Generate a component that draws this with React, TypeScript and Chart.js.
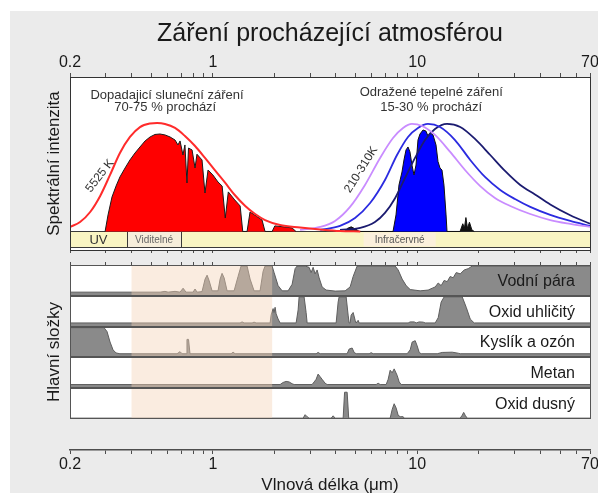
import React, { useEffect, useRef } from 'react';
import { Chart, registerables } from 'chart.js';

Chart.register(...registerables);

const FONT = "'Liberation Sans', Arial, Helvetica, sans-serif";
Chart.defaults.font.family = FONT;
Chart.defaults.color = '#1a1a1a';

// ---------- axis ----------
const axisMin = 0.2;
const axisMax = 70;
const tickValues = [0.2, 0.3, 0.4, 0.5, 0.6, 0.7, 0.8, 0.9, 1, 2, 3, 4, 5, 6, 7, 8, 9, 10, 20, 30, 40, 50, 60, 70];
const tickLabels = [0.2, 1, 10, 70];

// ---------- spectral bands (µm) ----------
const bandNames = ['UV', 'Viditelné', ''];
const bandEdges = [0.2, 0.38, 0.7, 70];
const irLabel = 'Infračervné';
const irLabelAt = 8.2;
const visibleShade = [0.4, 1.95];

// ---------- upper panel: [wavelength µm, relative intensity] ----------
const sunCurve5525K = [
  [0.2, 0.029], [0.224, 0.061], [0.251, 0.126], [0.281, 0.23], [0.314, 0.366], [0.351, 0.508],
  [0.393, 0.612], [0.44, 0.676], [0.493, 0.699], [0.533, 0.702], [0.583, 0.696], [0.653, 0.67],
  [0.73, 0.618], [0.818, 0.553], [0.915, 0.476], [1.02, 0.398], [1.15, 0.314], [1.28, 0.236],
  [1.44, 0.165], [1.61, 0.113], [1.8, 0.074], [2.13, 0.042], [2.67, 0.026], [3.35, 0.013],
  [4.19, 0.003], [5.26, 0],
];
const sunTransmitted = [
  [0.297, 0], [0.307, 0.107], [0.321, 0.223], [0.336, 0.294], [0.351, 0.353], [0.372, 0.411],
  [0.393, 0.463], [0.416, 0.508], [0.44, 0.547], [0.466, 0.586], [0.493, 0.612], [0.521, 0.628],
  [0.551, 0.631], [0.583, 0.625], [0.617, 0.612], [0.653, 0.592], [0.675, 0.56], [0.691, 0.586],
  [0.714, 0.495], [0.73, 0.56], [0.747, 0.314], [0.76, 0.54], [0.791, 0.528], [0.818, 0.411],
  [0.836, 0.5], [0.885, 0.463], [0.915, 0.249], [0.947, 0.398], [1.0, 0.366], [1.06, 0.32],
  [1.11, 0.294], [1.15, 0.087], [1.19, 0.256], [1.28, 0.204], [1.36, 0.165], [1.4, 0], [1.47, 0],
  [1.52, 0.126], [1.63, 0.1], [1.74, 0.074], [1.8, 0], [1.95, 0], [2.01, 0.036], [2.25, 0.029],
  [2.44, 0.023], [2.55, 0],
];
const thermal310K = [
  [2.67, 0.01], [3.35, 0.029], [3.96, 0.068], [4.69, 0.159], [5.55, 0.301], [6.58, 0.476],
  [7.61, 0.605], [8.52, 0.67], [9.42, 0.696], [10.55, 0.683], [12.21, 0.625], [14.49, 0.515],
  [17.12, 0.398], [20.32, 0.294], [24.0, 0.217], [28.5, 0.165], [35.71, 0.113], [44.73, 0.074],
  [56.04, 0.049], [70, 0.029],
];
const thermal260K = [
  [3.35, 0.01], [4.19, 0.036], [4.96, 0.087], [5.88, 0.184], [6.95, 0.333], [7.96, 0.495],
  [9.01, 0.612], [10.08, 0.67], [11.28, 0.696], [12.92, 0.676], [15.3, 0.592], [18.16, 0.463],
  [21.44, 0.353], [25.46, 0.269], [30.07, 0.21], [35.71, 0.159], [44.73, 0.107], [56.04, 0.068],
  [70, 0.036],
];
const thermal210K = [
  [4.19, 0.01], [5.26, 0.023], [6.21, 0.061], [6.95, 0.12], [7.8, 0.217], [8.71, 0.346],
  [9.75, 0.476], [10.91, 0.592], [12.21, 0.663], [13.98, 0.696], [16.22, 0.676], [19.16, 0.599],
  [22.75, 0.495], [26.87, 0.392], [31.9, 0.301], [37.67, 0.24], [44.73, 0.175], [56.04, 0.105],
  [70, 0.05],
];
const thermalTransmitted = [
  [7.61, 0], [7.87, 0.107], [8.14, 0.301], [8.42, 0.385], [8.61, 0.463], [8.81, 0.528],
  [9.01, 0.547], [9.21, 0.515], [9.42, 0.43], [9.64, 0.366], [9.86, 0.43], [10.08, 0.592],
  [10.31, 0.631], [10.67, 0.657], [11.03, 0.65], [11.28, 0.618], [11.54, 0.638], [11.94, 0.625],
  [12.35, 0.56], [12.63, 0.453], [12.92, 0.411], [13.21, 0.398], [13.51, 0.3], [13.83, 0.107],
  [13.98, 0],
];
const thermalMinor = [
  [4.4, 0], [4.55, 0.02], [4.75, 0.03], [5.0, 0.015], [5.2, 0], [16.2, 0], [16.7, 0.05],
  [17.0, 0.02], [17.3, 0.09], [17.6, 0.02], [18.0, 0.06], [18.5, 0.01], [19.0, 0],
];

// ---------- lower panel: [wavelength µm, absorption 0..1] ----------
const rowNames = ['Vodní pára', 'Oxid uhličitý', 'Kyslík a ozón', 'Metan', 'Oxid dusný'];
const waterVapor = [
  [0.2, 0], [0.552, 0], [0.583, 0.03], [0.604, 0], [0.653, 0.03], [0.691, 0], [0.715, 0.15],
  [0.739, 0], [0.8, 0], [0.818, 0.12], [0.837, 0], [0.885, 0.02], [0.916, 0.5], [0.937, 0.65],
  [0.958, 0.45], [0.991, 0.05], [1.06, 0.05], [1.085, 0.5], [1.109, 0.72], [1.135, 0.55],
  [1.174, 0.05], [1.27, 0.05], [1.328, 0.6], [1.374, 1], [1.47, 1], [1.521, 0.5], [1.591, 0.05],
  [1.702, 0.05], [1.761, 0.8], [1.801, 1], [1.949, 1], [1.993, 0.75], [2.085, 0.25], [2.182, 0.05],
  [2.334, 0.05], [2.442, 0.3], [2.526, 0.9], [2.583, 1], [2.827, 1], [2.957, 0.95], [3.025, 0.75],
  [3.094, 0.95], [3.164, 0.7], [3.237, 0.85], [3.31, 0.55], [3.424, 0.2], [3.582, 0.08],
  [3.965, 0.04], [4.438, 0.05], [4.695, 0.2], [4.856, 0.6], [5.08, 1], [7.797, 1], [8.064, 0.85],
  [8.437, 0.5], [8.826, 0.25], [9.233, 0.1], [10.33, 0.05], [11.31, 0.08], [11.83, 0.15],
  [12.24, 0.2], [12.66, 0.35], [13.09, 0.25], [13.54, 0.45], [14.01, 0.4], [14.49, 0.6],
  [14.99, 0.55], [15.51, 0.75], [16.22, 0.7], [16.97, 0.85], [17.75, 0.9], [18.57, 1], [70, 1],
];
const carbonDioxide = [
  [0.2, 0], [1.359, 0], [1.39, 0.04], [1.421, 0], [1.556, 0], [1.591, 0.03], [1.627, 0],
  [1.906, 0], [1.927, 0.3], [1.971, 0.55], [1.993, 0.4], [2.016, 0.6], [2.039, 0.35], [2.085, 0.15],
  [2.133, 0], [2.555, 0], [2.613, 0.5], [2.642, 1], [2.795, 1], [2.859, 0.4], [2.892, 0],
  [4.01, 0], [4.101, 0.8], [4.147, 1], [4.488, 1], [4.59, 0.3], [4.642, 0], [4.695, 0],
  [4.748, 0.3], [4.856, 0.4], [4.967, 0.1], [5.023, 0], [5.138, 0.1], [5.196, 0], [9.026, 0],
  [9.233, 0.04], [9.658, 0.04], [9.879, 0], [10.22, 0.04], [10.69, 0.03], [10.93, 0], [12.24, 0],
  [12.66, 0.2], [13.09, 0.8], [13.54, 1], [16.59, 1], [17.36, 0.6], [18.16, 0.15], [18.99, 0],
  [70, 0],
];
const oxygenOzone = [
  [0.2, 1], [0.2934, 1], [0.3035, 0.85], [0.314, 0.45], [0.3248, 0.15], [0.336, 0.03], [0.351, 0],
  [0.668, 0], [0.691, 0.08], [0.707, 0], [0.739, 0], [0.747, 0.55], [0.76, 0.55], [0.773, 0],
  [1.228, 0], [1.256, 0.06], [1.284, 0], [3.2, 0], [3.273, 0.05], [3.348, 0], [4.539, 0],
  [4.642, 0.18], [4.802, 0.22], [4.911, 0.05], [5.023, 0], [5.816, 0], [5.949, 0.04], [6.084, 0],
  [8.926, 0], [9.233, 0.15], [9.443, 0.45], [9.769, 0.5], [9.991, 0.3], [10.22, 0.05], [10.45, 0],
  [12.52, 0], [13.24, 0.05], [14.82, 0.06], [15.86, 0.02], [16.22, 0], [70, 0],
];
const methane = [
  [0.2, 0], [2.133, 0], [2.206, 0.08], [2.282, 0.12], [2.361, 0.1], [2.442, 0.03], [2.498, 0],
  [3.059, 0], [3.129, 0.1], [3.2, 0.2], [3.273, 0.4], [3.348, 0.3], [3.424, 0.2], [3.542, 0.05],
  [3.623, 0], [6.294, 0], [6.437, 0.05], [6.584, 0], [7.045, 0], [7.205, 0.2], [7.369, 0.55],
  [7.537, 0.45], [7.709, 0.6], [7.974, 0.35], [8.156, 0.1], [8.342, 0], [70, 0],
];
const nitrousOxide = [
  [0.2, 0], [2.764, 0], [2.827, 0.12], [2.892, 0.05], [2.957, 0], [3.79, 0], [3.876, 0.08],
  [3.965, 0], [4.339, 0], [4.41, 0.9], [4.539, 0.9], [4.62, 0], [7.369, 0], [7.537, 0.3],
  [7.709, 0.5], [7.885, 0.35], [8.064, 0.1], [8.249, 0.05], [8.532, 0.05], [8.629, 0],
  [16.22, 0], [16.59, 0.1], [16.87, 0.2], [17.16, 0.1], [17.55, 0], [70, 0],
];
const rowSeries = [waterVapor, carbonDioxide, oxygenOzone, methane, nitrousOxide];

// ---------- helpers ----------
const toXY = (arr: number[][]) => arr.map(([x, y]) => ({ x, y }));
const font = (size: number) => `${size}px ${FONT}`;

function logAxis(position: string, showLabels: boolean, height: number, tickLength = 4) {
  return {
    type: 'logarithmic',
    position,
    min: axisMin,
    max: axisMax,
    afterBuildTicks: (s: any) => {
      s.ticks = tickValues.map((v) => ({ value: v }));
    },
    afterFit: (s: any) => {
      s.height = height;
      s.paddingLeft = 0;
      s.paddingRight = 0;
    },
    grid: { display: true, drawOnChartArea: false, drawTicks: true, tickLength, tickColor: '#4d4d4d', tickWidth: 1 },
    border: { display: false },
    ticks: {
      display: showLabels,
      autoSkip: false,
      maxRotation: 0,
      minRotation: 0,
      padding: 1,
      font: { size: 16 },
      color: '#1a1a1a',
      callback: (v: any) => (tickLabels.some((t) => Math.abs(t - Number(v)) < 1e-9) ? String(v) : ''),
    },
  };
}

const whiteArea = {
  id: 'whiteArea',
  beforeDraw(chart: any) {
    const { ctx, chartArea: a } = chart;
    ctx.save();
    ctx.fillStyle = '#ffffff';
    ctx.fillRect(a.left, a.top, a.right - a.left, a.bottom - a.top);
    ctx.restore();
  },
};

function drawText(ctx: any, text: string, x: number, y: number, size: number, color: string, align = 'center', rot = 0) {
  ctx.save();
  ctx.translate(x, y);
  if (rot) ctx.rotate((rot * Math.PI) / 180);
  ctx.font = font(size);
  ctx.fillStyle = color;
  ctx.textAlign = align;
  ctx.textBaseline = 'middle';
  ctx.fillText(text, 0, 0);
  ctx.restore();
}

const bandPlugin = {
  id: 'bands',
  beforeDatasetsDraw(chart: any) {
    const { ctx, chartArea, scales } = chart;
    const xs = scales.x;
    const ys = scales.y;
    const top = Math.round(ys.getPixelForValue(0)) + 0.5;
    const bottom = Math.round(chartArea.bottom) - 2.5;
    const colors = ['#f9f5c3', '#f6eedb', '#f9f5c3'];
    ctx.save();
    for (let i = 0; i < bandNames.length; i++) {
      const x0 = Math.round(xs.getPixelForValue(bandEdges[i]));
      const x1 = Math.round(xs.getPixelForValue(bandEdges[i + 1]));
      ctx.fillStyle = colors[i];
      ctx.fillRect(x0, top, x1 - x0, bottom - top);
      ctx.strokeStyle = '#3a3a3a';
      ctx.lineWidth = 1;
      ctx.strokeRect(x0 + 0.5, top, x1 - x0, bottom - top);
    }
    const mid = (top + bottom) / 2;
    const c0 = (xs.getPixelForValue(bandEdges[0]) + xs.getPixelForValue(bandEdges[1])) / 2;
    const c1 = (xs.getPixelForValue(bandEdges[1]) + xs.getPixelForValue(bandEdges[2])) / 2;
    drawText(ctx, bandNames[0], c0, mid + 0.5, 13, '#333');
    drawText(ctx, bandNames[1], c1, mid + 0.5, 10, '#666');
    const ix = xs.getPixelForValue(irLabelAt);
    ctx.font = font(10);
    const w = ctx.measureText(irLabel).width + 22;
    ctx.fillStyle = '#fbf0dc';
    ctx.fillRect(ix - w / 2, top + 1, w, bottom - top - 2);
    drawText(ctx, irLabel, ix, mid + 0.5, 10, '#555');
    ctx.restore();
  },
  afterDraw(chart: any) {
    const { ctx, chartArea: a, scales } = chart;
    const xs = scales.x;
    const ys = scales.y;
    ctx.save();
    ctx.strokeStyle = '#333';
    ctx.lineWidth = 1;
    ctx.strokeRect(Math.round(a.left) + 0.5, Math.round(a.top) + 0.5, Math.round(a.right - a.left), Math.round(a.bottom - a.top));
    const P = (lx: number, v: number) => [xs.getPixelForValue(lx), ys.getPixelForValue(v)];
    let p = P(0.597, 0.883);
    drawText(ctx, 'Dopadajicí sluneční záření', p[0], p[1], 13, '#333');
    p = P(0.585, 0.8);
    drawText(ctx, '70-75 % prochází', p[0], p[1], 13, '#333');
    p = P(11.7, 0.903);
    drawText(ctx, 'Odražené tepelné záření', p[0], p[1], 13, '#333');
    p = P(11.7, 0.8);
    drawText(ctx, '15-30 % prochází', p[0], p[1], 13, '#333');
    p = P(0.28, 0.36);
    drawText(ctx, '5525 K', p[0], p[1], 12, '#333', 'center', -52);
    p = P(5.31, 0.4);
    drawText(ctx, '210-310K', p[0], p[1], 12, '#333', 'center', -58);
    ctx.restore();
  },
};

const rowPlugin = {
  id: 'rows',
  afterDatasetsDraw(chart: any) {
    const { ctx, chartArea: a, scales } = chart;
    const x0 = scales.x.getPixelForValue(visibleShade[0]);
    const x1 = scales.x.getPixelForValue(visibleShade[1]);
    ctx.save();
    ctx.fillStyle = 'rgba(244, 210, 182, 0.42)';
    ctx.fillRect(x0, a.top, x1 - x0, a.bottom - a.top);
    ctx.restore();
  },
  afterDraw(chart: any) {
    const { ctx, chartArea: a, scales } = chart;
    ctx.save();
    ctx.strokeStyle = '#555';
    ctx.lineWidth = 1;
    rowNames.forEach((name, i) => {
      const s = scales[`y${i + 1}`];
      const t = Math.round(s.top) + 0.5;
      const b = Math.round(s.bottom) - 0.5;
      ctx.strokeRect(Math.round(a.left) + 0.5, t, Math.round(a.right - a.left), b - t);
      drawText(ctx, name, a.right - 15, (s.top + s.bottom) / 2 + 1, 16, '#1a1a1a', 'right');
    });
    drawText(ctx, 'Hlavní složky', 54, (a.top + a.bottom) / 2 + 10, 17, '#1a1a1a', 'center', -90);
    ctx.restore();
  },
};

function lineDs(data: number[][], color: string, width: number, order: number, smooth: boolean) {
  return {
    data: toXY(data),
    borderColor: color,
    borderWidth: width,
    fill: false,
    tension: smooth ? 0.4 : 0,
    cubicInterpolationMode: smooth ? 'monotone' : 'default',
    pointRadius: 0,
    order,
  };
}
function fillDs(data: number[][], color: string, edge: string, order: number) {
  return {
    data: toXY(data),
    borderColor: edge,
    borderWidth: 1,
    backgroundColor: color,
    fill: 'origin',
    tension: 0,
    pointRadius: 0,
    order,
  };
}

function configUpper(): any {
  return {
    type: 'line',
    data: {
      datasets: [
        lineDs(sunCurve5525K, '#ff2b2b', 2, 0, true),
        lineDs(thermal310K, '#c98cff', 1.8, 0, true),
        lineDs(thermal260K, '#2b2be0', 1.8, 0, true),
        lineDs(thermal210K, '#1b1b70', 1.8, 0, true),
        fillDs(sunTransmitted, '#ff0000', '#1a1a1a', 2),
        fillDs(thermalTransmitted, '#0000ff', '#111111', 2),
        fillDs(thermalMinor, '#111111', '#111111', 2),
      ],
    },
    options: {
      animation: false,
      responsive: false,
      events: [],
      layout: { padding: { left: 0, right: 8, top: 0, bottom: 3 } },
      plugins: {
        legend: { display: false },
        tooltip: { enabled: false },
        title: {
          display: true,
          text: 'Záření procházející atmosférou',
          fullSize: false,
          font: { size: 25, weight: 'normal' },
          color: '#1a1a1a',
          padding: { top: 19, bottom: 0 },
        },
      },
      scales: {
        x: logAxis('top', true, 28),
        x2: logAxis('bottom', false, 3, 3),
        y: {
          type: 'linear',
          min: -0.12,
          max: 1.0,
          ticks: { display: false },
          grid: { display: false },
          border: { display: false },
          title: {
            display: true,
            text: 'Spektrální intenzita',
            font: { size: 17 },
            color: '#1a1a1a',
            padding: { top: 44, bottom: 0 },
          },
          afterFit: (s: any) => {
            s.width = 70;
            s.paddingTop = 0;
            s.paddingBottom = 0;
          },
        },
      },
    },
    plugins: [whiteArea, bandPlugin],
  };
}

function rowAxis(weight: number, min: number) {
  return {
    type: 'linear',
    position: 'left',
    stack: 'rows',
    stackWeight: 1,
    weight,
    min,
    max: 1.04,
    ticks: { display: false },
    grid: { display: false },
    border: { display: false },
    afterFit: (s: any) => {
      s.width = 70;
      s.paddingTop = 0;
      s.paddingBottom = 0;
    },
  };
}

function configRows(): any {
  return {
    type: 'line',
    data: {
      datasets: rowSeries.map((arr, i) => ({
        data: toXY(arr),
        xAxisID: 'x',
        yAxisID: `y${i + 1}`,
        fill: 'start',
        backgroundColor: '#8a8a8a',
        borderColor: '#5e5e5e',
        borderWidth: 1,
        tension: 0,
        pointRadius: 0,
      })),
    },
    options: {
      animation: false,
      responsive: false,
      events: [],
      layout: { padding: { left: 0, right: 8, top: 0, bottom: 6 } },
      plugins: { legend: { display: false }, tooltip: { enabled: false } },
      scales: {
        x: logAxis('top', false, 10, 3),
        y1: rowAxis(5, -0.14),
        y2: rowAxis(4, -0.14),
        y3: rowAxis(3, -0.14),
        y4: rowAxis(2, -0.14),
        y5: rowAxis(1, -0.03),
      },
    },
    plugins: [whiteArea, rowPlugin],
  };
}

function configAxis(): any {
  const x: any = logAxis('bottom', true, 46);
  x.border = { display: true, color: '#4d4d4d', width: 1.5 };
  x.title = { display: true, text: 'Vlnová délka (μm)', font: { size: 17 }, color: '#1a1a1a', padding: { top: 0, bottom: 0 } };
  return {
    type: 'line',
    data: { datasets: [] },
    options: {
      animation: false,
      responsive: false,
      events: [],
      layout: { padding: { left: 70, right: 8, top: 0, bottom: 0 } },
      plugins: { legend: { display: false }, tooltip: { enabled: false } },
      scales: {
        x,
        y: { display: false, min: 0, max: 1 },
      },
    },
  };
}

export default function App() {
  const refA = useRef<HTMLCanvasElement>(null);
  const refB = useRef<HTMLCanvasElement>(null);
  const refC = useRef<HTMLCanvasElement>(null);
  useEffect(() => {
    const charts = [
      new Chart(refA.current as HTMLCanvasElement, configUpper()),
      new Chart(refB.current as HTMLCanvasElement, configRows()),
      new Chart(refC.current as HTMLCanvasElement, configAxis()),
    ];
    return () => charts.forEach((c) => c.destroy());
  }, []);
  return (
    <div style={{ position: 'absolute', left: 0, top: 0, width: 598, height: 493, overflow: 'hidden', background: '#ffffff' }}>
      <div style={{ position: 'absolute', left: 10, top: 11, right: 0, bottom: 0, background: '#ebebeb' }} />
      <canvas ref={refA} width={598} height={256} style={{ position: 'absolute', left: 0, top: 0, width: 598, height: 256 }} />
      <canvas ref={refB} width={598} height={170} style={{ position: 'absolute', left: 0, top: 255, width: 598, height: 170 }} />
      <canvas ref={refC} width={598} height={76} style={{ position: 'absolute', left: 0, top: 420, width: 598, height: 76 }} />
    </div>
  );
}
